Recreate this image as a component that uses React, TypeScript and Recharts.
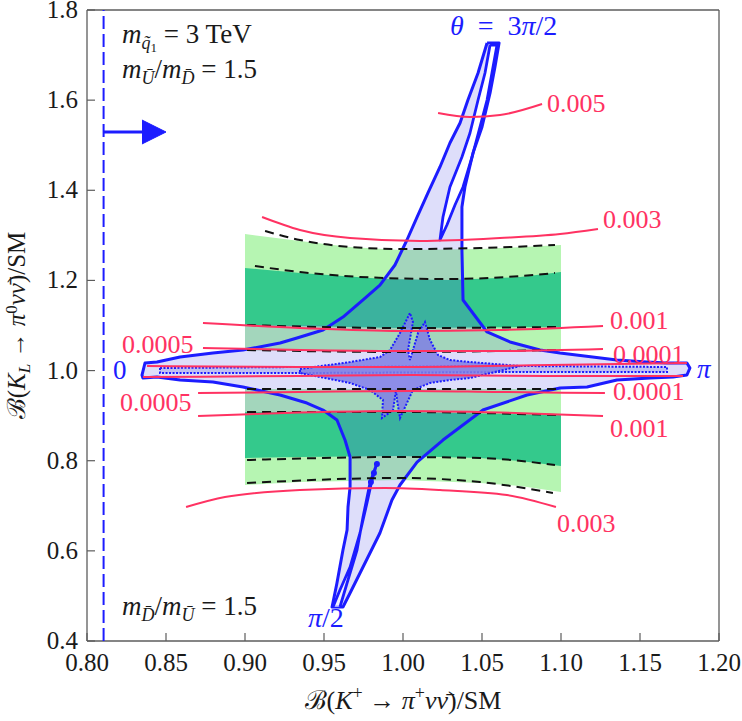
import React from "react";
import { ComposedChart, XAxis, YAxis, Scatter } from "recharts";

type P = [number, number];

// ---- axes ----
const xMajorTicks = [0.8, 0.85, 0.9, 0.95, 1.0, 1.05, 1.1, 1.15, 1.2];
const xMinorTicks = [
  0.81, 0.82, 0.83, 0.84, 0.86, 0.87, 0.88, 0.89, 0.91, 0.92, 0.93, 0.94, 0.96, 0.97, 0.98, 0.99,
  1.01, 1.02, 1.03, 1.04, 1.06, 1.07, 1.08, 1.09, 1.11, 1.12, 1.13, 1.14, 1.16, 1.17, 1.18, 1.19,
];
const yMajorTicks = [0.4, 0.6, 0.8, 1.0, 1.2, 1.4, 1.6, 1.8];
const yMinorTicks = [
  0.45, 0.5, 0.55, 0.65, 0.7, 0.75, 0.85, 0.9, 0.95, 1.05, 1.1, 1.15, 1.25, 1.3, 1.35, 1.45, 1.5,
  1.55, 1.65, 1.7, 1.75,
];

// ---- experimental bands (K_L band) ----
const lightGreenBand: P[] = [
  [0.9, 1.303], [0.9348, 1.2875], [0.9665, 1.2742], [0.9981, 1.2675], [1.0487, 1.2697], [1.1, 1.2786],
  [1.1, 0.7306], [1.0741, 0.7439], [1.0487, 0.7505], [0.9981, 0.7572], [0.9348, 0.7527], [0.9, 0.7461],
];
const tealBand: P[] = [
  [0.9, 1.2276], [0.9348, 1.2165], [0.9886, 1.2031], [1.0297, 1.2009], [1.0741, 1.2076], [1.1, 1.2187],
  [1.1, 0.7882], [1.0741, 0.7993], [1.0487, 0.806], [0.9981, 0.8104], [0.9348, 0.8082], [0.9, 0.806],
];
const innerUpperBand: P[] = [
  [0.9, 1.1011], [0.9981, 1.0944], [1.1, 1.0967], [1.1, 1.0456], [0.9981, 1.0412], [0.9, 1.0456],
];
const innerGap: P[] = [
  [0.9, 1.0456], [0.9981, 1.0412], [1.1, 1.0456], [1.1, 0.9591], [0.9, 0.9591],
];
const innerLowerBand: P[] = [
  [0.9, 0.9591], [1.1, 0.9591], [1.1, 0.9014], [0.9981, 0.908], [0.9, 0.908],
];

// dashed band boundaries
const dashed1: P[] = [[0.9127, 1.3097], [0.9348, 1.2897], [0.9665, 1.2742], [0.9981, 1.2697], [1.0487, 1.2719], [1.0962, 1.2786]];
const dashed2: P[] = [[0.9063, 1.232], [0.9348, 1.2187], [0.9886, 1.2054], [1.0297, 1.2031], [1.0741, 1.2098], [1.0962, 1.2165]];
const dashed3: P[] = [[0.9013, 1.1011], [0.9981, 1.0944], [1.0975, 1.0967]];
const dashed4: P[] = [[0.9013, 1.0456], [0.9981, 1.0412], [1.0975, 1.0456]];
const dashed5: P[] = [[0.9013, 0.9591], [0.9981, 0.9591], [1.0975, 0.9591]];
const dashed6: P[] = [[0.9013, 0.908], [0.9981, 0.908], [1.0975, 0.9014]];
const dashed7: P[] = [[0.9013, 0.8015], [0.9981, 0.8082], [1.0487, 0.806], [1.0962, 0.7905]];
const dashed8: P[] = [[0.9013, 0.7505], [0.9981, 0.7616], [1.0487, 0.7527], [1.0949, 0.7284]];

// ---- red contours ----
const red005: P[] = [[1.0222, 1.5715], [1.0424, 1.5626], [1.0614, 1.567], [1.088, 1.5914]];
const red003Top: P[] = [[0.9108, 1.3407], [0.9348, 1.3119], [0.9665, 1.2941], [1.0108, 1.2875], [1.0614, 1.2941], [1.0994, 1.303], [1.1234, 1.3141]];
const red001Top: P[] = [[0.8734, 1.1055], [0.9348, 1.0944], [0.9981, 1.0878], [1.0614, 1.09], [1.1266, 1.0989]];
const red0005Top: P[] = [[0.8734, 1.0501], [0.9348, 1.0456], [0.9981, 1.0434], [1.0614, 1.0434], [1.1266, 1.0478]];
const redInnerTop: P[] = [[0.838, 1.0101], [0.9348, 1.0079], [1.0044, 1.0079], [1.093, 1.0123], [1.1797, 1.0168]];
const redInnerBottom: P[] = [[0.8354, 0.9857], [0.9348, 0.9879], [1.0044, 0.9901], [1.093, 0.9879], [1.1772, 0.9879]];
const red0005Bottom: P[] = [[0.8703, 0.9502], [0.9348, 0.9524], [1.0044, 0.9547], [1.0614, 0.9524], [1.1278, 0.9502]];
const red001Bottom: P[] = [[0.8703, 0.8992], [0.9348, 0.9069], [0.9981, 0.9103], [1.0614, 0.9069], [1.1266, 0.8992]];
const red003Bottom: P[] = [[0.8627, 0.6973], [0.8873, 0.7195], [0.9348, 0.735], [0.9886, 0.7394], [1.0234, 0.735], [1.0658, 0.7239], [1.0968, 0.6973]];

// ---- scan region (theta) ----
const thetaTopArmLeft: P[] = [
  [1.0532, 1.7268], [1.0475, 1.6602], [1.0411, 1.6003], [1.0361, 1.5493], [1.0297, 1.5049], [1.0234, 1.4517],
  [1.0158, 1.394], [1.0089, 1.3407], [1.0025, 1.2897], [0.9949, 1.2342], [0.9854, 1.1898], [0.9747, 1.1566],
  [0.962, 1.1188],
];
const thetaLeftArm: P[] = [
  [0.8797, 1.039], [0.8589, 1.0301], [0.8443, 1.019], [0.8367, 1.0168], [0.8348, 0.9901], [0.8354, 0.9835],
  [0.8443, 0.9857], [0.8589, 0.9791], [0.8797, 0.9746],
];
const thetaRest: P[] = [
  [0.9582, 0.8903], [0.9633, 0.8459], [0.9665, 0.8082], [0.9665, 0.7417], [0.9652, 0.6973], [0.9646, 0.6462],
  [0.962, 0.6019], [0.9582, 0.5287], [0.9551, 0.4754], [0.962, 0.4754], [0.9665, 0.5065], [0.9747, 0.5641],
  [0.9854, 0.6396], [0.993, 0.7128], [0.9981, 0.7461], [1.0089, 0.7971], [1.0253, 0.8459], [1.0506, 0.9125],
  [1.0785, 0.9458], [1.0994, 0.9613], [1.1165, 0.9635], [1.1354, 0.9791], [1.1563, 0.9835], [1.1709, 0.9857],
  [1.1797, 0.9901], [1.1816, 1.0057], [1.1797, 1.0168], [1.1671, 1.0168], [1.1544, 1.019], [1.1354, 1.0234],
  [1.0994, 1.039], [1.0867, 1.0456], [1.0677, 1.0634], [1.0532, 1.0856], [1.038, 1.1566], [1.0373, 1.2675],
  [1.0373, 1.3629], [1.0392, 1.4073], [1.0443, 1.4827], [1.05, 1.5404], [1.0551, 1.6158], [1.0582, 1.6735],
  [1.0608, 1.7268], [1.0532, 1.7268],
];
// filled area: outline plus the overlap with the inner bands at x >= 0.90
const thetaFill: P[] = [
  ...thetaTopArmLeft,
  [0.9538, 1.1011], [0.9, 1.1011], [0.9, 1.0456],
  ...thetaLeftArm,
  [0.9, 0.9635], [0.9, 0.908], [0.9513, 0.908],
  ...thetaRest,
];
const thetaOutline: P[] = [
  ...thetaTopArmLeft,
  [0.9494, 1.09], [0.9329, 1.0722], [0.9222, 1.0611], [0.8987, 1.0456],
  ...thetaLeftArm,
  [0.8987, 0.9635], [0.9222, 0.9458], [0.9392, 0.928], [0.9494, 0.9125],
  ...thetaRest,
];
const topArmGap: P[] = [
  [1.0551, 1.7223], [1.0519, 1.6602], [1.0475, 1.6003], [1.0424, 1.5271], [1.0373, 1.4738], [1.0297, 1.4073],
  [1.0253, 1.3407], [1.0234, 1.2897], [1.0278, 1.323], [1.0329, 1.3673], [1.038, 1.4073], [1.0437, 1.4738],
  [1.0487, 1.5404], [1.0532, 1.6003], [1.0563, 1.6602], [1.0595, 1.7223], [1.0551, 1.7223],
];
const lowerArmInner: P[] = [
  [0.9557, 0.4754], [0.9601, 0.5131], [0.9665, 0.5641], [0.9728, 0.6396], [0.9772, 0.7062], [0.9804, 0.7572],
  [0.9835, 0.7949], [0.9791, 0.7505], [0.9747, 0.6751], [0.9709, 0.6019], [0.9646, 0.5287], [0.9601, 0.4754],
];
const lowerArmDots: P[] = [[0.9835, 0.7927], [0.9816, 0.7727], [0.9797, 0.7527]];

// inner (dark) region
const innerStar: P[] = [
  [0.9348, 1.0035], [0.9665, 1.019], [0.9854, 1.0301], [0.9918, 1.0456], [0.9981, 1.0833], [1.0044, 1.1277],
  [1.0063, 1.1078], [1.0032, 1.0456], [1.0044, 1.0234], [1.0095, 1.0833], [1.0139, 1.1078], [1.0171, 1.0678],
  [1.0222, 1.0345], [1.0297, 1.0234], [1.0424, 1.019], [1.0741, 1.0101], [1.0424, 0.9835], [1.0297, 0.9791],
  [1.0171, 0.9724], [1.0063, 0.9569], [0.9981, 0.8947], [0.9962, 0.9347], [0.9956, 0.9569], [0.9937, 0.9125],
  [0.9867, 0.8947], [0.9873, 0.9347], [0.9791, 0.9569], [0.9665, 0.9724], [0.9348, 0.9946], [0.9348, 1.0035],
];
const innerStrip: P[] = [
  [0.8462, 1.0057], [0.9348, 1.0079], [1.0741, 1.0101], [1.1671, 1.0079], [1.1671, 0.9968], [1.0741, 0.9968],
  [0.9348, 0.9946], [0.8462, 0.9946], [0.8462, 1.0057],
];

// ---- bound (dashed vertical) and arrow ----
const boundLine: P[] = [[0.8105, 0.4], [0.8105, 1.8]];
const arrowShaft: P[] = [[0.8105, 1.5293], [0.8358, 1.5293]];
const arrowHead: P[] = [[0.8348, 1.5559], [0.85, 1.5293], [0.8348, 1.5027]];

// ---- label anchors ----
const redLabels: { text: string; at: P }[] = [
  { text: "0.005", at: [1.0911, 1.5737] },
  { text: "0.003", at: [1.1266, 1.3163] },
  { text: "0.001", at: [1.131, 1.0922] },
  { text: "0.0001", at: [1.1329, 1.0168] },
  { text: "0.0001", at: [1.1329, 0.9347] },
  { text: "0.001", at: [1.131, 0.8526] },
  { text: "0.003", at: [1.0975, 0.6418] },
  { text: "0.0005", at: [0.8222, 1.039] },
  { text: "0.0005", at: [0.8209, 0.9103] },
];
const zeroAt: P = [0.8165, 0.9813];
const piAt: P = [1.1861, 0.9835];
const threePiHalfAt: P = [1.0297, 1.7445];
const piHalfAt: P = [0.9399, 0.4311];
const massNoteAt: P = [0.8222, 1.7268];
const ratioTopAt: P = [0.8222, 1.6491];
const ratioBottomAt: P = [0.8222, 0.4577];

const SERIF = "'Liberation Serif', 'DejaVu Serif', serif";
const AXIS = "#5c5c5c";
const BLUE = "#1c1cff";
const RED = "#ff3262";
const LIGHT_GREEN = "#b6f5b2";
const TEAL = "#34c98c";
const INK = "#1a1a1a";

const pts = (a: P[]) => a.map(([x, y]) => ({ x, y }));
const NoDot = () => <g />;

function poly(key: string, data: P[], line: Record<string, unknown>, joint = "linear") {
  return (
    <Scatter
      key={key}
      xAxisId="b"
      yAxisId="l"
      data={pts(data)}
      line={line}
      lineJointType={joint as any}
      shape={NoDot}
      isAnimationActive={false}
    />
  );
}

function note(key: string, at: P, render: (cx: number, cy: number) => React.ReactElement) {
  return (
    <Scatter
      key={key}
      xAxisId="b"
      yAxisId="l"
      data={pts([at])}
      shape={(p: any) => render(p.cx, p.cy)}
      isAnimationActive={false}
    />
  );
}

const tickMark =
  (side: "bottom" | "top" | "left" | "right", len: number, fmt?: (v: number) => string) =>
  (props: any) => {
    const { x, y, payload } = props;
    let line: React.ReactElement;
    let label: React.ReactElement | null = null;
    if (side === "bottom") {
      line = <line x1={x} x2={x} y1={y} y2={y - len} stroke={AXIS} strokeWidth={1.2} />;
      if (fmt)
        label = (
          <text x={x} y={y + 30} textAnchor="middle" fontFamily={SERIF} fontSize={25} fill={INK}>
            {fmt(payload.value)}
          </text>
        );
    } else if (side === "top") {
      line = <line x1={x} x2={x} y1={y} y2={y + len} stroke={AXIS} strokeWidth={1.2} />;
    } else if (side === "left") {
      line = <line x1={x} x2={x + len} y1={y} y2={y} stroke={AXIS} strokeWidth={1.2} />;
      if (fmt)
        label = (
          <text x={x - 9} y={y + 8} textAnchor="end" fontFamily={SERIF} fontSize={25} fill={INK}>
            {fmt(payload.value)}
          </text>
        );
    } else {
      line = <line x1={x} x2={x - len} y1={y} y2={y} stroke={AXIS} strokeWidth={1.2} />;
    }
    return (
      <g>
        {line}
        {label}
      </g>
    );
  };

const XTitle = (props: any) => {
  const vb = props.viewBox || { x: 87, y: 641, width: 632 };
  return (
    <text x={vb.x + vb.width / 2} y={vb.y + 68} textAnchor="middle" fontFamily={SERIF} fontSize={26} fill={INK}>
      <tspan>ℬ(</tspan>
      <tspan fontStyle="italic">K</tspan>
      <tspan fontSize={18} dy={-10}>+</tspan>
      <tspan dy={10}> → </tspan>
      <tspan fontStyle="italic">π</tspan>
      <tspan fontSize={18} dy={-10}>+</tspan>
      <tspan dy={10} fontStyle="italic">νν̄</tspan>
      <tspan>)/SM</tspan>
    </text>
  );
};

const YTitle = (props: any) => {
  const vb = props.viewBox || { x: 87, y: 10, height: 631 };
  const cx = 25;
  const cy = vb.y + vb.height / 2;
  return (
    <text
      x={cx}
      y={cy}
      transform={`rotate(-90, ${cx}, ${cy})`}
      textAnchor="middle"
      fontFamily={SERIF}
      fontSize={25}
      fill={INK}
    >
      <tspan>ℬ(</tspan>
      <tspan fontStyle="italic">K</tspan>
      <tspan fontSize={17} fontStyle="italic" dy={5}>L</tspan>
      <tspan dy={-5}> → </tspan>
      <tspan fontStyle="italic">π</tspan>
      <tspan fontSize={17} dy={-8}>0</tspan>
      <tspan dy={8} fontStyle="italic">νν̄</tspan>
      <tspan>)/SM</tspan>
    </text>
  );
};

const fmt1 = (v: number) => v.toFixed(1);
const fmt2 = (v: number) => v.toFixed(2);

const common = { type: "number" as const, allowDecimals: true, interval: 0 as const, tickSize: 0, tickMargin: 0, tickLine: false };

export default function App() {
  return (
    <div style={{ position: "absolute", left: 0, top: 0, width: 742, height: 721, background: "#fff" }}>
      <ComposedChart width={742} height={721} margin={{ top: 8, right: 21, bottom: 78, left: 85 }}>
        <XAxis {...common} xAxisId="b" dataKey="x" domain={[0.8, 1.2]} ticks={xMajorTicks} height={1}
          axisLine={{ stroke: AXIS, strokeWidth: 1.3 }} tick={tickMark("bottom", 8, fmt2)} label={XTitle} />
        <XAxis {...common} xAxisId="bm" dataKey="x" domain={[0.8, 1.2]} ticks={xMinorTicks} height={1}
          axisLine={false} tick={tickMark("bottom", 5.5)} />
        <XAxis {...common} xAxisId="t" orientation="top" dataKey="x" domain={[0.8, 1.2]} ticks={xMajorTicks} height={1}
          axisLine={{ stroke: AXIS, strokeWidth: 1.3 }} tick={tickMark("top", 8)} />
        <XAxis {...common} xAxisId="tm" orientation="top" dataKey="x" domain={[0.8, 1.2]} ticks={xMinorTicks} height={1}
          axisLine={false} tick={tickMark("top", 5.5)} />
        <YAxis {...common} yAxisId="l" dataKey="y" domain={[0.4, 1.8]} ticks={yMajorTicks} width={1}
          axisLine={{ stroke: AXIS, strokeWidth: 1.3 }} tick={tickMark("left", 8, fmt1)} label={YTitle} />
        <YAxis {...common} yAxisId="lm" dataKey="y" domain={[0.4, 1.8]} ticks={yMinorTicks} width={1}
          axisLine={false} tick={tickMark("left", 5.5)} />
        <YAxis {...common} yAxisId="r" orientation="right" dataKey="y" domain={[0.4, 1.8]} ticks={yMajorTicks} width={1}
          axisLine={{ stroke: AXIS, strokeWidth: 1.3 }} tick={tickMark("right", 8)} />
        <YAxis {...common} yAxisId="rm" orientation="right" dataKey="y" domain={[0.4, 1.8]} ticks={yMinorTicks} width={1}
          axisLine={false} tick={tickMark("right", 5.5)} />

        {/* bands */}
        {poly("lg", lightGreenBand, { fill: LIGHT_GREEN, stroke: "none" })}
        {poly("teal", tealBand, { fill: TEAL, stroke: "none" })}
        {poly("inU", innerUpperBand, { fill: LIGHT_GREEN, stroke: "none" })}
        {poly("inG", innerGap, { fill: "#ffffff", stroke: "none" })}
        {poly("inL", innerLowerBand, { fill: LIGHT_GREEN, stroke: "none" })}

        {/* theta scan region */}
        {poly("thFill", thetaFill, { fill: "#5a5ae6", fillOpacity: 0.2, stroke: "none" })}
        {poly("gapTop", topArmGap, { fill: "#ffffff", stroke: BLUE, strokeWidth: 2.8, strokeLinejoin: "round" })}
        {poly("thLine", thetaOutline, { fill: "none", stroke: BLUE, strokeWidth: 3, strokeLinejoin: "round" })}
        {poly("lowInner", lowerArmInner, { fill: "#ffffff", fillOpacity: 0.6, stroke: BLUE, strokeWidth: 2.8, strokeLinejoin: "round" })}
        {poly("strip", innerStrip, { fill: "#b8b8f0", fillOpacity: 0.8, stroke: BLUE, strokeWidth: 2, strokeDasharray: "2 1.5" })}
        {poly("star", innerStar, { fill: "#7f7fe4", fillOpacity: 0.85, stroke: BLUE, strokeWidth: 2, strokeDasharray: "2 1.5" })}
        <Scatter xAxisId="b" yAxisId="l" data={pts(lowerArmDots)} fill={BLUE} shape={(p: any) => <circle cx={p.cx} cy={p.cy} r={3} fill={BLUE} />} isAnimationActive={false} />

        {/* dashed band edges */}
        {[dashed1, dashed2, dashed3, dashed4, dashed5, dashed6, dashed7, dashed8].map((d, i) =>
          poly(`dash${i}`, d, { fill: "none", stroke: "#111", strokeWidth: 2, strokeDasharray: "9 6" }, "monotoneX")
        )}

        {/* red contours */}
        {[red005, red003Top, red001Top, red0005Top, redInnerTop, redInnerBottom, red0005Bottom, red001Bottom, red003Bottom].map((d, i) =>
          poly(`red${i}`, d, { fill: "none", stroke: RED, strokeWidth: 2 }, "monotoneX")
        )}

        {/* bound and arrow */}
        {poly("bound", boundLine, { fill: "none", stroke: BLUE, strokeWidth: 2, strokeDasharray: "13 5" })}
        {poly("shaft", arrowShaft, { fill: "none", stroke: BLUE, strokeWidth: 3 })}
        {poly("head", arrowHead, { fill: BLUE, stroke: BLUE, strokeWidth: 1 })}

        {/* labels */}
        {redLabels.map((l, i) =>
          note(`rl${i}`, l.at, (cx, cy) => (
            <text x={cx} y={cy} fontFamily={SERIF} fontSize={26} fill={RED}>{l.text}</text>
          ))
        )}
        {note("zero", zeroAt, (cx, cy) => (
          <text x={cx} y={cy} fontFamily={SERIF} fontSize={27} fill={BLUE}>0</text>
        ))}
        {note("pi", piAt, (cx, cy) => (
          <text x={cx} y={cy} fontFamily={SERIF} fontSize={27} fontStyle="italic" fill={BLUE}>π</text>
        ))}
        {note("tpi", threePiHalfAt, (cx, cy) => (
          <text x={cx} y={cy} fontFamily={SERIF} fontSize={28} fill={BLUE}>
            <tspan fontStyle="italic">θ</tspan>
            <tspan>{"\u2002=\u20023"}</tspan>
            <tspan fontStyle="italic">π</tspan>
            <tspan>/2</tspan>
          </text>
        ))}
        {note("phalf", piHalfAt, (cx, cy) => (
          <text x={cx} y={cy} fontFamily={SERIF} fontSize={28} fill={BLUE}>
            <tspan fontStyle="italic">π</tspan>
            <tspan>/2</tspan>
          </text>
        ))}
        {note("mass", massNoteAt, (cx, cy) => (
          <text x={cx} y={cy} fontFamily={SERIF} fontSize={27} fill={INK}>
            <tspan fontStyle="italic">m</tspan>
            <tspan fontStyle="italic" fontSize={18} dy={6}>q̃</tspan>
            <tspan fontSize={13} dy={3}>1</tspan>
            <tspan dy={-9}>{"  =  3 TeV"}</tspan>
          </text>
        ))}
        {note("ratioTop", ratioTopAt, (cx, cy) => (
          <text x={cx} y={cy} fontFamily={SERIF} fontSize={27} fill={INK}>
            <tspan fontStyle="italic">m</tspan>
            <tspan fontStyle="italic" fontSize={18} dy={6}>Ū</tspan>
            <tspan dy={-6}>/</tspan>
            <tspan fontStyle="italic">m</tspan>
            <tspan fontStyle="italic" fontSize={18} dy={6}>D̄</tspan>
            <tspan dy={-6}>{"  =  1.5"}</tspan>
          </text>
        ))}
        {note("ratioBottom", ratioBottomAt, (cx, cy) => (
          <text x={cx} y={cy} fontFamily={SERIF} fontSize={27} fill={INK}>
            <tspan fontStyle="italic">m</tspan>
            <tspan fontStyle="italic" fontSize={18} dy={6}>D̄</tspan>
            <tspan dy={-6}>/</tspan>
            <tspan fontStyle="italic">m</tspan>
            <tspan fontStyle="italic" fontSize={18} dy={6}>Ū</tspan>
            <tspan dy={-6}>{"  =  1.5"}</tspan>
          </text>
        ))}
      </ComposedChart>
    </div>
  );
}
